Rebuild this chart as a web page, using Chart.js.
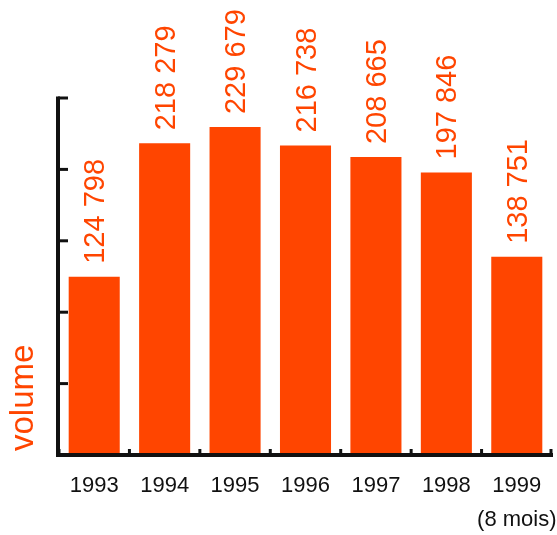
<!DOCTYPE html>
<html>
<head>
<meta charset="utf-8">
<script src="https://cdn.jsdelivr.net/npm/chart.js@4/dist/chart.umd.min.js"></script>
<style>
  html, body { margin: 0; padding: 0; background: #fff; }
  #wrap { width: 557px; height: 535px; }
</style>
</head>
<body>
<div id="wrap"><canvas id="volumeChart"></canvas></div>
<script>
const years = ['1993', '1994', '1995', '1996', '1997', '1998', ['1999', '(8 mois)']];
const volumes = [124798, 218279, 229679, 216738, 208665, 197846, 138751];
const yTicks = [0, 50000, 100000, 150000, 200000, 250000];

const ORANGE = '#ff4500';

// thousands with a space, french style
function fmt(v) {
    return String(v).replace(/\B(?=(\d{3})+(?!\d))/g, ' ');
}

// black axis lines with inward ticks, plus the "volume" title
const axesPlugin = {
    id: 'axesPlugin',
    afterDatasetsDraw(chart) {
        const ctx = chart.ctx;
        const x = chart.scales.x;
        const y = chart.scales.y;
        const area = chart.chartArea;
        const base = y.getPixelForValue(0);
        ctx.save();
        ctx.strokeStyle = '#111';
        ctx.lineCap = 'butt';

        // vertical axis
        ctx.lineWidth = 4;
        ctx.beginPath();
        ctx.moveTo(area.left - 1, y.getPixelForValue(yTicks[yTicks.length - 1]) - 1.5);
        ctx.lineTo(area.left - 1, base + 2);
        ctx.stroke();
        ctx.lineWidth = 3;
        yTicks.forEach(function (t) {
            const py = y.getPixelForValue(t);
            ctx.beginPath();
            ctx.moveTo(area.left - 1, py);
            ctx.lineTo(area.left + 9, py);
            ctx.stroke();
        });

        // horizontal axis
        ctx.lineWidth = 4;
        ctx.beginPath();
        ctx.moveTo(area.left - 3, base);
        ctx.lineTo(area.right + 1, base);
        ctx.stroke();
        ctx.lineWidth = 3;
        for (let i = 0; i <= years.length; i++) {
            let px;
            if (i === 0) px = area.left;
            else if (i === years.length) px = area.right - 1;
            else px = (x.getPixelForValue(i - 1) + x.getPixelForValue(i)) / 2;
            ctx.beginPath();
            ctx.moveTo(px, base);
            ctx.lineTo(px, base - 6);
            ctx.stroke();
        }

        // axis title
        ctx.fillStyle = ORANGE;
        ctx.font = '33px "Liberation Sans", Arial, sans-serif';
        ctx.translate(33, 451);
        ctx.rotate(-Math.PI / 2);
        ctx.textAlign = 'left';
        ctx.textBaseline = 'alphabetic';
        ctx.fillText('volume', 0, 0);
        ctx.restore();
    }
};

// vertical value labels above each bar
const valueLabels = {
    id: 'valueLabels',
    afterDatasetsDraw(chart) {
        const ctx = chart.ctx;
        const meta = chart.getDatasetMeta(0);
        ctx.save();
        ctx.fillStyle = ORANGE;
        ctx.font = '29px "Liberation Sans", Arial, sans-serif';
        ctx.textAlign = 'left';
        ctx.textBaseline = 'middle';
        meta.data.forEach(function (bar, i) {
            ctx.save();
            ctx.translate(bar.x + 2, bar.y - 13);
            ctx.rotate(-Math.PI / 2);
            ctx.fillText(fmt(volumes[i]), 0, 0);
            ctx.restore();
        });
        ctx.restore();
    }
};

new Chart(document.getElementById('volumeChart'), {
    type: 'bar',
    data: {
        labels: years,
        datasets: [{
            data: volumes,
            backgroundColor: ORANGE,
            borderWidth: 0,
            categoryPercentage: 1,
            barPercentage: 0.725
        }]
    },
    options: {
        responsive: true,
        maintainAspectRatio: false,
        animation: false,
        events: [],
        layout: {
            padding: { top: 98, right: 5, left: 0, bottom: 0 }
        },
        plugins: {
            legend: { display: false },
            tooltip: { enabled: false }
        },
        scales: {
            x: {
                grid: { display: false, drawTicks: false },
                border: { display: false },
                ticks: {
                    color: '#111',
                    padding: 14,
                    maxRotation: 0,
                    autoSkip: false,
                    font: { family: '"Liberation Sans", Arial', size: 22, lineHeight: 1.55 }
                },
                afterFit(scale) {
                    scale.height = 80;
                    scale.paddingLeft = 0;
                    scale.paddingRight = 0;
                }
            },
            y: {
                min: 0,
                max: 250000,
                grid: { display: false, drawTicks: false },
                border: { display: false },
                ticks: { display: false },
                afterFit(scale) {
                    scale.width = 59;
                    scale.paddingTop = 0;
                    scale.paddingBottom = 0;
                }
            }
        }
    },
    plugins: [axesPlugin, valueLabels]
});
</script>
</body>
</html>
